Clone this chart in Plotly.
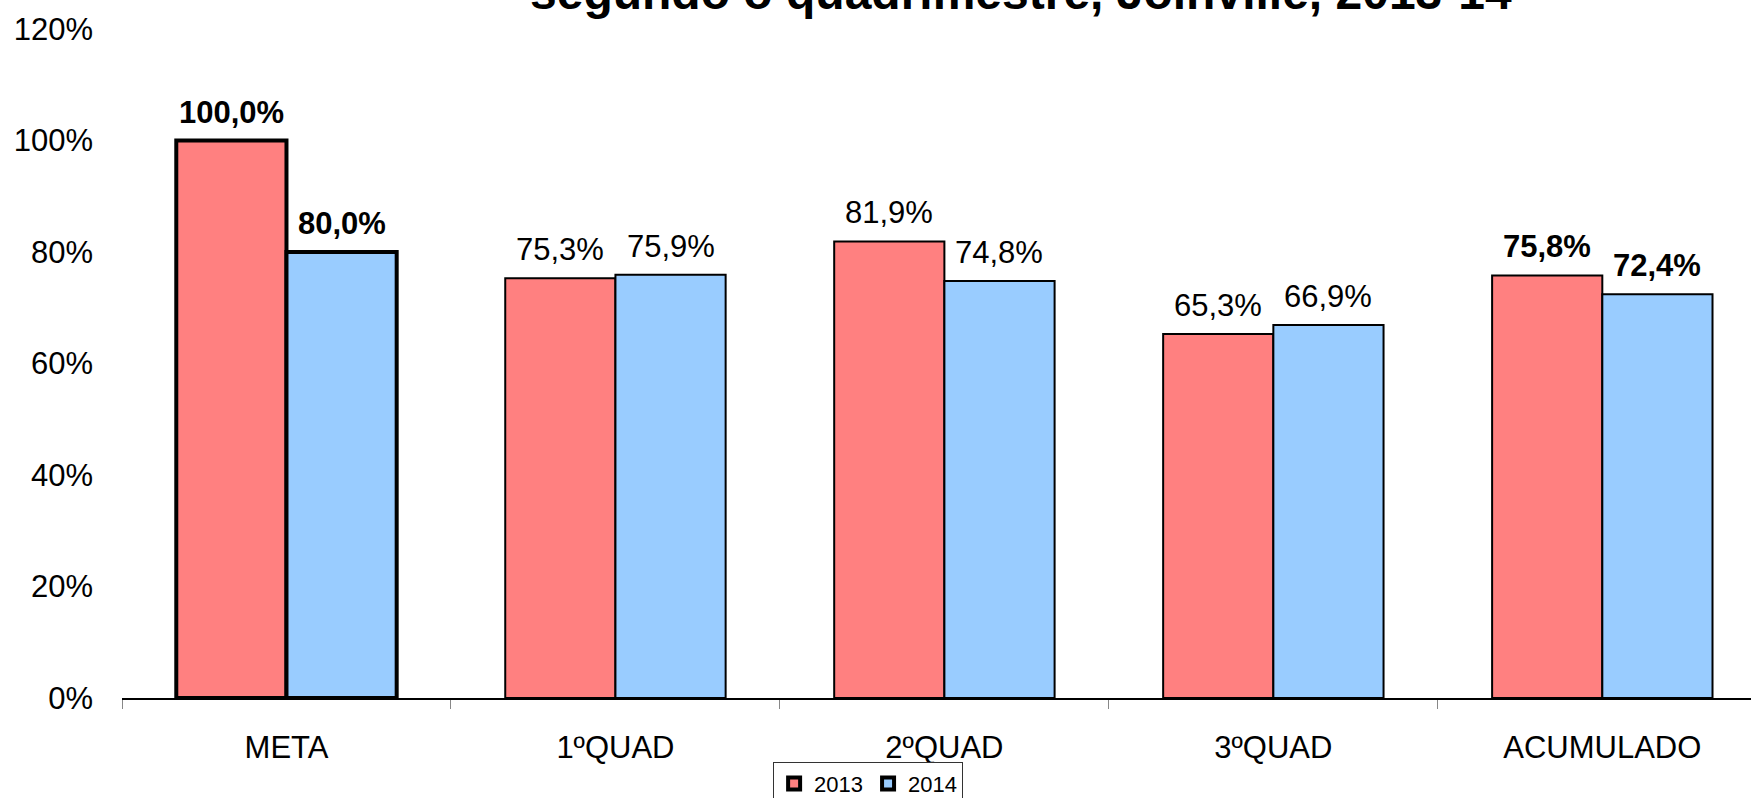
import plotly.graph_objects as go

categories = ["META", "1ºQUAD", "2ºQUAD", "3ºQUAD", "ACUMULADO"]
values_2013 = [100.0, 75.3, 81.9, 65.3, 75.8]
values_2014 = [80.0, 75.9, 74.8, 66.9, 72.4]
bold_categories = ["META", "ACUMULADO"]
series_names = ["2013", "2014"]
y_ticks = [0, 20, 40, 60, 80, 100, 120]
title_text = "segundo o quadrimestre, Joinville, 2013-14"

FONT = "Liberation Sans, Arial, sans-serif"
colors = ["#FF8080", "#99CCFF"]
line_widths = [4 if c == "META" else 2 for c in categories]

fig = go.Figure()
for name, vals, col in zip(series_names, [values_2013, values_2014], colors):
    fig.add_trace(go.Bar(
        name=name, x=categories, y=vals,
        marker=dict(color=col, line=dict(color="black", width=line_widths)),
    ))

def fmt(v, bold):
    s = f"{v:.1f}".replace(".", ",") + "%"
    return f"<b>{s}</b>" if bold else s

annotations = []
bargap = 0.33
cat_px = 329.0
offset = (1 - bargap) / 4 * cat_px
for vals, sign in [(values_2013, -1), (values_2014, 1)]:
    for c, v in zip(categories, vals):
        annotations.append(dict(
            x=c, y=v, xref="x", yref="y", text=fmt(v, c in bold_categories),
            showarrow=False, xshift=sign * offset, yanchor="bottom", yshift=9,
            font=dict(family=FONT, size=31, color="black"),
        ))

annotations.append(dict(
    text=f"<b>{title_text}</b>", xref="paper", yref="paper", x=0.552, y=1.0125,
    xanchor="center", yanchor="bottom", showarrow=False,
    font=dict(family=FONT, size=48, color="black"),
))

fig.update_layout(
    width=1751, height=798,
    margin=dict(l=122, r=0, t=29, b=100, autoexpand=False),
    paper_bgcolor="white", plot_bgcolor="white",
    barmode="group", bargap=bargap, bargroupgap=0,
    font=dict(family=FONT, color="black"),
    annotations=annotations,
    showlegend=True,
    legend=dict(
        orientation="h", x=0.3997, y=-0.0952, xanchor="left", yanchor="top",
        bordercolor="#333", borderwidth=1, bgcolor="white",
        font=dict(family=FONT, size=22, color="black"),
    ),
    xaxis=dict(
        type="category", range=[-0.5, 4.452], tickson="boundaries",
        ticks="outside", ticklen=9, tickcolor="#888", tickwidth=1,
        showline=True, linecolor="black", linewidth=1.5,
        showgrid=False, zeroline=False, automargin=False,
        tickfont=dict(family=FONT, size=31, color="black"),
        ticklabelstandoff=21,
    ),
    yaxis=dict(
        range=[0, 120], tickmode="array", tickvals=y_ticks,
        ticktext=[f"{t}%" for t in y_ticks],
        showgrid=False, zeroline=False, showline=False, ticks="",
        automargin=False,
        tickfont=dict(family=FONT, size=31, color="black"),
        ticklabelstandoff=28,
    ),
)

fig.write_html("out.html", config={"displayModeBar": False},
               post_script="document.body.style.margin='0';document.body.style.overflow='hidden';")
